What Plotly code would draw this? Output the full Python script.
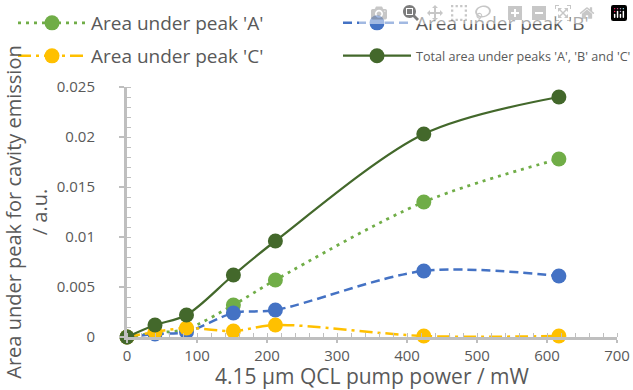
import plotly.graph_objects as go

power_mw = [0, 40, 85, 152, 212, 424, 617]
area_a = [0, 0.0004, 0.0008, 0.0032, 0.0057, 0.0135, 0.0178]
area_b = [0, 0.0003, 0.0005, 0.0024, 0.0027, 0.0066, 0.0061]
area_c = [0, 0.0005, 0.0009, 0.0006, 0.0012, 0.0001, 0.0001]
area_total = [0, 0.0012, 0.0022, 0.0062, 0.0096, 0.0203, 0.0240]

names = ["Area under peak 'A'", "Area under peak 'B'", "Area under peak 'C'",
         "Total area under peaks 'A', 'B' and 'C'"]
colors = ["#70AD47", "#4472C4", "#FFC000", "#43682B"]
dashes = ["3px,5px", "9px,5px", "13px,5px,3px,5px", "solid"]
widths = [2.75, 2.5, 2.5, 2.25]
series = [area_a, area_b, area_c, area_total]
legend_ids = ["legend", "legend2", "legend3", "legend4"]

fig = go.Figure()
for name, ys, col, dash, w, lg in zip(names, series, colors, dashes, widths, legend_ids):
    fig.add_trace(go.Scatter(
        x=power_mw, y=ys, name=name, mode="lines+markers", legend=lg,
        line=dict(color=col, dash=dash, width=w, shape="spline", smoothing=0.9),
        marker=dict(color=col, size=15),
        cliponaxis=False,
    ))

gray = "#595959"
axis_col = "#BFBFBF"
W, H = 633, 390


def legend_at(px, py, size):
    return dict(xref="container", yref="container", x=px / W, y=1 - py / H,
                xanchor="left", yanchor="middle", orientation="h",
                font=dict(size=size, color=gray), itemwidth=68,
                bgcolor="rgba(0,0,0,0)", borderwidth=0)


fig.update_layout(
    width=W, height=H,
    margin=dict(l=127, r=16, t=87, b=53),
    paper_bgcolor="white", plot_bgcolor="white",
    font=dict(family="Open Sans", color=gray, size=15),
    showlegend=True,
    legend=legend_at(13, 23, 19),
    legend2=legend_at(338, 23, 19),
    legend3=legend_at(13, 56, 19),
    legend4=legend_at(338, 56, 12.6),
    xaxis=dict(range=[0, 700], dtick=100, showgrid=False, zeroline=False,
               automargin=False,
               showline=True, linecolor=axis_col, linewidth=3,
               ticks="outside", ticklen=3, tickwidth=1.5, tickcolor=axis_col,
               minor=dict(dtick=20, ticks="inside", ticklen=4, tickcolor=axis_col, tickwidth=1),
               tickfont=dict(size=15, color=gray),
               title=dict(text="4.15 µm QCL pump power / mW", font=dict(size=21, color=gray), standoff=3)),
    yaxis=dict(range=[0, 0.025], dtick=0.005, showgrid=False, zeroline=False,
               automargin=False,
               showline=True, linecolor=axis_col, linewidth=3,
               ticks="outside", ticklen=5, tickwidth=1.5, tickcolor=axis_col,
               minor=dict(dtick=0.001, ticks="inside", ticklen=4, tickcolor=axis_col, tickwidth=1),
               tickformat="~g", ticklabelstandoff=21,
               tickfont=dict(size=15, color=gray),
               title=dict(text="Area under peak for cavity emission<br>/ a.u.", font=dict(size=20, color=gray), standoff=10)),
)

fig.write_html("out.html", post_script="document.body.style.margin='0px';")
